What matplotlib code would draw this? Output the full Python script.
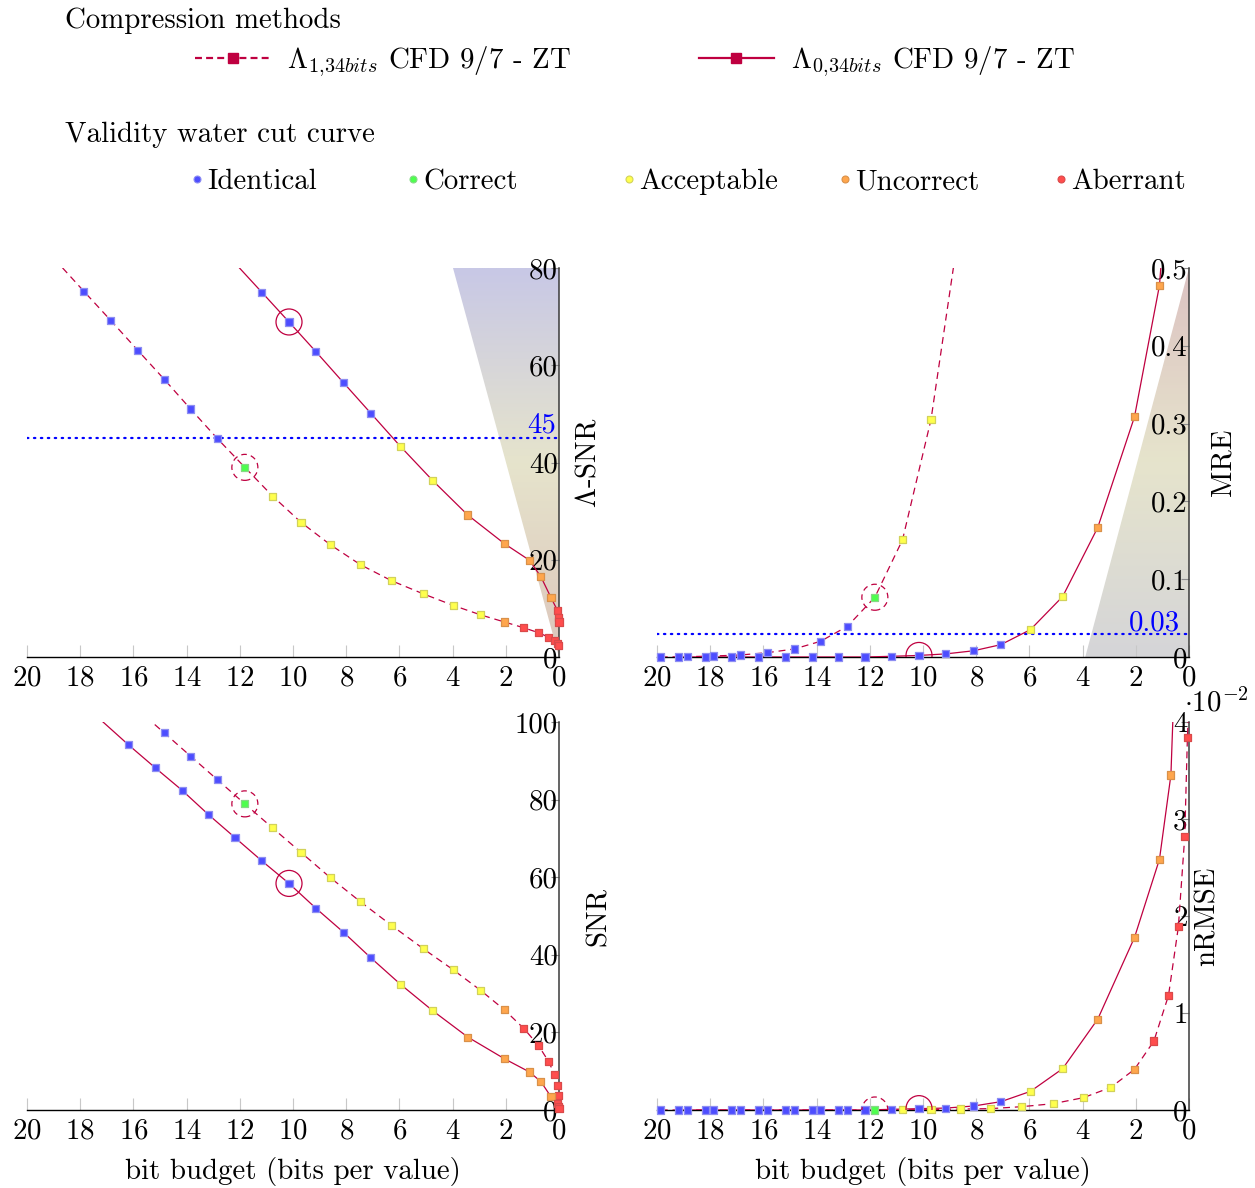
import matplotlib
matplotlib.use('Agg')
import matplotlib.pyplot as plt
import matplotlib.transforms as mtransforms
import numpy as np
from matplotlib.lines import Line2D
from matplotlib.patches import Polygon, Circle
from matplotlib.colors import LinearSegmentedColormap

FS = 20.8
plt.rcParams['font.family'] = 'cmr10'
plt.rcParams['mathtext.fontset'] = 'cm'
plt.rcParams['axes.formatter.use_mathtext'] = True
plt.rcParams['lines.scale_dashes'] = False
plt.rcParams['font.size'] = FS

# ---- data: Lambda_{1,34bits} (dashed) ----
bits_l1 = [19.86, 18.86, 17.86, 16.85, 15.84, 14.84, 13.85, 12.84, 11.81, 10.77, 9.70, 8.60,
           7.47, 6.30, 5.11, 3.97, 2.94, 2.05, 1.32, 0.77, 0.40, 0.16, 0.06, 0.02]
cls_l1 = ['I', 'I', 'I', 'I', 'I', 'I', 'I', 'I', 'C', 'A', 'A', 'A',
          'A', 'A', 'A', 'A', 'A', 'U', 'X', 'X', 'X', 'X', 'X', 'X']
asnr_l1 = [87.2, 81.2, 75.2, 69.2, 63.1, 57.1, 51.0, 44.9, 39.0, 33.1, 27.7, 23.1,
           19.0, 15.7, 13.0, 10.6, 8.65, 7.2, 6.0, 5.0, 4.1, 3.4, 2.7, 2.3]
snr_l1 = [127.5, 121.4, 115.4, 109.3, 103.2, 97.2, 91.2, 85.1, 78.9, 72.7, 66.4, 59.9,
          53.7, 47.6, 41.6, 36.1, 30.8, 25.8, 21.0, 16.6, 12.6, 9.1, 6.4, 3.7]
mre_l1 = [0.0, 0.0004, 0.0013, 0.0026, 0.0056, 0.0103, 0.0202, 0.0395, 0.0768, 0.1506, 0.305, 0.56,
          0.9, 1.3, 1.8, 2.3, 2.8, 3.3, 3.7, 4.0, 4.3, 4.5, 4.6, 4.7]
nrmse_l1 = [0.0, 0.0, 0.0, 0.0, 0.0, 0.0, 0.0, 0.0, 0.0, 0.002, 0.004, 0.010,
            0.014, 0.034, 0.065, 0.127, 0.233, 0.419, 0.711, 1.181, 1.888, 2.819, 3.839, 4.1]  # x1e-2

# ---- data: Lambda_{0,34bits} (solid) ----
bits_l0 = [19.19, 18.19, 17.19, 16.20, 15.18, 14.17, 13.19, 12.18, 11.17, 10.15, 9.14, 8.10,
           7.07, 5.96, 4.75, 3.43, 2.05, 1.11, 0.68, 0.30, 0.06, 0.02, 0.0]
cls_l0 = ['I', 'I', 'I', 'I', 'I', 'I', 'I', 'I', 'I', 'I', 'I', 'I',
          'I', 'A', 'A', 'U', 'U', 'U', 'U', 'U', 'X', 'X', 'X']
asnr_l0 = [123.0, 117.0, 111.0, 105.0, 99.0, 93.0, 87.0, 81.0, 75.0, 68.9, 62.8, 56.4,
           50.1, 43.3, 36.3, 29.2, 23.3, 19.9, 16.5, 12.2, 9.6, 8.2, 7.2]
snr_l0 = [112.3, 106.3, 100.3, 94.2, 88.2, 82.4, 76.2, 70.2, 64.2, 58.4, 52.0, 45.8,
          39.2, 32.4, 25.6, 18.8, 13.2, 9.8, 7.3, 3.4, 1.6, 0.8, 0.3]
mre_l0 = [0.0, 0.0, 0.0, 0.0, 0.0, 0.0, 0.0, 0.0, 0.0009, 0.002, 0.004, 0.008,
          0.0159, 0.0352, 0.0777, 0.1665, 0.3086, 0.4777, 0.67, 0.9, 1.1, 1.2, 1.3]
nrmse_l0 = [0.0, 0.0, 0.0, 0.0, 0.0, 0.0, 0.0, 0.0, 0.007, 0.014, 0.02, 0.041,
            0.086, 0.192, 0.426, 0.937, 1.778, 2.585, 3.454, 6.4, 8.0, 9.0, 10.0]  # x1e-2

circled_l1 = 8   # index of circled point (dashed ring)
circled_l0 = 9   # index of circled point (solid ring)

categories = ['I', 'C', 'A', 'U', 'X']
cat_names = ['Identical', 'Correct', 'Acceptable', 'Uncorrect', 'Aberrant']
cat_fill = {'I': '#4d4dff', 'C': '#4dff4d', 'A': '#ffff4d', 'U': '#ffa64d', 'X': '#ff4d4d'}
cat_edge = {'I': '#8e8ef2', 'C': '#86d886', 'A': '#d2d25a', 'U': '#d9914a', 'X': '#d94a4a'}

purple = '#bf0040'
dash = (5, 3.5)

fig = plt.figure(figsize=(12.55, 11.88), dpi=100)
W, H = 1255.0, 1188.0


def make_ax(l, t, r, b):
    return fig.add_axes([l / W, 1 - b / H, (r - l) / W, (b - t) / H])


ax_asnr = make_ax(27, 268, 559, 657)
ax_mre = make_ax(657, 268, 1189, 657)
ax_snr = make_ax(27, 722, 559, 1110)
ax_nrmse = make_ax(657, 722, 1189, 1110)


def ring(ax, x, y, ls):
    tr = fig.dpi_scale_trans + mtransforms.ScaledTranslation(x, y, ax.transData)
    ax.add_patch(Circle((0, 0), 0.13, transform=tr, fill=False, ec=purple, lw=0.9, ls=ls, zorder=5))


def panel(ax, v1, v0, ymax, yticks, ylabels, ylabel, label_off):
    ax.plot(bits_l1, v1, color=purple, lw=0.9, dashes=dash, zorder=3)
    ax.plot(bits_l0, v0, color=purple, lw=0.9, zorder=3)
    for bits, vals, cls in ((bits_l1, v1, cls_l1), (bits_l0, v0, cls_l0)):
        keep = [i for i in range(len(bits)) if vals[i] <= ymax]
        ax.scatter([bits[i] for i in keep], [vals[i] for i in keep], marker='s', s=26,
                   c=[cat_fill[cls[i]] for i in keep], edgecolors=[cat_edge[cls[i]] for i in keep],
                   linewidths=0.9, zorder=4, clip_on=False)
    ring(ax, bits_l1[circled_l1], v1[circled_l1], (0, (4, 3)))
    ring(ax, bits_l0[circled_l0], v0[circled_l0], '-')

    ax.set_xlim(20, 0)
    ax.set_ylim(0, ymax)
    ax.set_xticks(range(0, 21, 2))
    ax.yaxis.tick_right()
    ax.set_yticks(yticks, ylabels, ha='right')
    for s in ('top', 'left'):
        ax.spines[s].set_visible(False)
    ax.spines['bottom'].set_linewidth(1.0)
    ax.spines['right'].set_color('#3a3a3a')
    ax.spines['right'].set_linewidth(1.1)
    ax.tick_params(axis='x', direction='in', length=9, width=0.8, color='#c8c8c8', pad=6, labelsize=FS)
    ax.tick_params(axis='y', direction='in', length=6, width=0.8, color='#8c8c8c', pad=-1, labelsize=FS)
    ax.text(1 + label_off, 0.5, ylabel, transform=ax.transAxes, rotation=90,
            ha='center', va='center', fontsize=FS)


def shade(ax, verts, colors, y0, y1):
    cmap = LinearSegmentedColormap.from_list('grad', colors)
    grad = np.linspace(0, 1, 256).reshape(-1, 1)
    im = ax.imshow(grad, cmap=cmap, extent=(0, 4, y0, y1), origin='lower',
                   aspect='auto', zorder=1, interpolation='bilinear')
    im.set_clip_path(Polygon(verts, closed=True, transform=ax.transData))


panel(ax_asnr, asnr_l1, asnr_l0, 80, [0, 20, 40, 60, 80], ['0', '20', '40', '60', '80'],
      r'$\Lambda$-SNR', 0.055)
panel(ax_mre, mre_l1, mre_l0, 0.5, [0, 0.1, 0.2, 0.3, 0.4, 0.5],
      ['0', '0.1', '0.2', '0.3', '0.4', '0.5'], 'MRE', 0.065)
panel(ax_snr, snr_l1, snr_l0, 100, [0, 20, 40, 60, 80, 100],
      ['0', '20', '40', '60', '80', '100'], 'SNR', 0.075)
panel(ax_nrmse, nrmse_l1, nrmse_l0, 4, [0, 1, 2, 3, 4], ['0', '1', '2', '3', '4'], 'nRMSE', 0.035)

shade(ax_asnr, [(4, 80), (0, 80), (0, 0)], ['#dcc6bc', '#e6e4cc', '#c8c8e6'], 0, 80)
shade(ax_mre, [(3.9, 0), (0, 0.5), (0, 0)], ['#d5d5d8', '#e6e4cc', '#dcc2c2'], 0, 0.5)
for ax in (ax_asnr, ax_mre, ax_snr, ax_nrmse):
    ax.set_xlim(20, 0)

# thresholds
ax_asnr.axhline(45, color='blue', lw=1.6, ls=(0, (1, 4)), dash_capstyle='round', zorder=2)
ax_asnr.text(0.12, 46.1, '45', color='blue', ha='right', va='baseline', fontsize=FS, zorder=6)
ax_mre.axhline(0.03, color='blue', lw=1.6, ls=(0, (1, 4)), dash_capstyle='round', zorder=2)
ax_mre.text(0.32, 0.0347, '0.03', color='blue', ha='right', va='baseline', fontsize=FS, zorder=6)
ax_nrmse.text(0.99, 1.012, r'$\cdot 10^{-2}$', transform=ax_nrmse.transAxes,
              ha='left', va='bottom', fontsize=FS)

ax_snr.set_xlabel('bit budget (bits per value)', fontsize=FS, labelpad=9)
ax_nrmse.set_xlabel('bit budget (bits per value)', fontsize=FS, labelpad=9)

# legends
fig.text(65 / W, 1 - 28 / H, 'Compression methods', fontsize=FS, va='baseline')
fig.text(65 / W, 1 - 142 / H, 'Validity water cut curve', fontsize=FS, va='baseline')

h1 = Line2D([], [], color=purple, lw=1.6, dashes=(5, 3), marker='s', ms=7, mfc=purple, mec=purple)
h0 = Line2D([], [], color=purple, lw=1.6, marker='s', ms=7, mfc=purple, mec=purple)
fig.legend([h1, h0], [r'$\Lambda_{1{,}34bits}$ CFD 9/7 - ZT', r'$\Lambda_{0{,}34bits}$ CFD 9/7 - ZT'],
           loc='center left', bbox_to_anchor=(195 / W, 1 - 62 / H), ncol=2, frameon=False,
           borderpad=0, borderaxespad=0, handlelength=2.6, handletextpad=0.6,
           columnspacing=4.4, fontsize=FS)

for i, (c, name) in enumerate(zip(categories, cat_names)):
    xm = (197 + i * 216) / W
    fig.add_artist(Line2D([xm], [1 - 179 / H], transform=fig.transFigure, ls='none', marker='o',
                          ms=5, mfc=cat_fill[c], mec=cat_edge[c], mew=0.8))
    fig.text(xm + 10 / W, 1 - 189 / H, name, fontsize=FS, va='baseline')

fig.savefig('out.png', dpi=100)
